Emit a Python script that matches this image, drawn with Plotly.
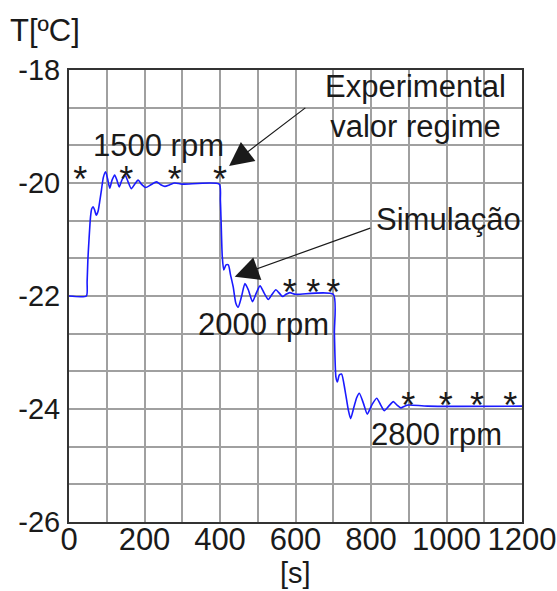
import plotly.graph_objects as go

# ---- data ----
sim_t = [0, 46, 48, 50, 53, 57, 60, 64, 68, 72, 77, 82, 86, 91, 97, 102, 108, 114, 121, 127,
         133, 140, 148, 156, 165, 174, 183, 193, 203, 217, 232, 243, 254, 267, 280, 300, 398,
         401, 403, 406, 410, 416, 422, 428, 435, 442, 448, 457, 466, 475, 486, 496, 506, 517,
         528, 538, 548, 557, 566, 575, 585, 600, 700, 703, 707, 711, 716, 722, 731, 740, 746,
         755, 762, 769, 780, 790, 802, 815, 825, 835, 847, 859, 869, 879, 889, 899, 950, 1200]
sim_T = [-22.0, -22.0, -21.75, -21.36, -21.0, -20.6, -20.46, -20.42, -20.48, -20.57, -20.5,
         -20.3, -20.12, -19.9, -19.8, -19.92, -20.09, -19.95, -19.86, -19.95, -20.07, -19.95,
         -19.85, -19.97, -20.1, -20.02, -19.95, -20.03, -20.08, -20.03, -19.98, -20.03, -20.06,
         -20.03, -20.0, -20.02, -20.02, -20.3, -20.7, -21.3, -21.54, -21.45, -21.45, -21.63,
         -21.84, -22.13, -22.2, -22.01, -21.78, -21.89, -22.1, -21.95, -21.82, -21.95, -22.06,
         -21.97, -21.89, -21.95, -22.01, -21.97, -21.94, -21.97, -21.97, -22.66, -23.43,
         -23.52, -23.40, -23.38, -23.66, -24.02, -24.17, -23.96, -23.8, -23.72, -23.90, -24.09,
         -23.93, -23.81, -23.92, -24.03, -23.95, -23.87, -23.93, -23.98, -23.95, -23.93,
         -23.95, -23.95]

exp_t = [30, 152, 280, 400, 585, 647, 700, 899, 998, 1081, 1169]
exp_T = [-20, -20, -20, -20, -22, -22, -22, -24, -24, -24, -24]

x_grid = list(range(0, 1201, 100))
x_labels = [str(v) if v % 200 == 0 else "" for v in x_grid]
y_grid = [-26 + k * 2 / 3 for k in range(13)]
y_labels = [str(round(v)) if k % 3 == 0 else "" for k, v in enumerate(y_grid)]

FONT = "Liberation Sans, Arial, sans-serif"
TXT = "#1a1a1a"

fig = go.Figure()
fig.add_trace(go.Scatter(x=sim_t, y=sim_T, mode="lines",
                         line=dict(color="#1a1aff", width=1.6, shape="spline", smoothing=0.6),
                         hoverinfo="skip", showlegend=False))
fig.add_trace(go.Scatter(x=exp_t, y=exp_T, mode="text", text=["*"] * len(exp_t),
                         textfont=dict(family=FONT, size=36, color=TXT),
                         textposition="middle center", showlegend=False, cliponaxis=False))

ann_font = dict(family=FONT, size=31, color=TXT)
annotations = [
    dict(x=238, y=-19.33, xref="x", yref="y", text="1500 rpm", showarrow=False, font=ann_font),
    dict(x=918, y=-18.64, xref="x", yref="y", text="Experimental<br>valor regime",
         showarrow=False, font=ann_font, align="center"),
    dict(x=1004, y=-20.65, xref="x", yref="y", text="Simulação", showarrow=False, font=ann_font),
    dict(x=514, y=-22.51, xref="x", yref="y", text="2000 rpm", showarrow=False, font=ann_font),
    dict(x=973, y=-24.45, xref="x", yref="y", text="2800 rpm", showarrow=False, font=ann_font),
    # arrows
    dict(x=424, y=-19.70, ax=630, ay=-18.65, xref="x", yref="y", axref="x", ayref="y",
         text="", showarrow=True, arrowhead=2, arrowsize=4, arrowwidth=1.2, arrowcolor=TXT),
    dict(x=439, y=-21.66, ax=802, ay=-20.79, xref="x", yref="y", axref="x", ayref="y",
         text="", showarrow=True, arrowhead=2, arrowsize=4, arrowwidth=1.2, arrowcolor=TXT),
    # axis labels
    dict(x=-0.054, y=1.088, xref="paper", yref="paper", xanchor="center", yanchor="middle",
         text="T[ºC]", showarrow=False, font=dict(family=FONT, size=31, color=TXT)),
    dict(x=0.5, y=-0.112, xref="paper", yref="paper", xanchor="center", yanchor="middle",
         text="[s]", showarrow=False, font=dict(family=FONT, size=29, color=TXT)),
]

axis_common = dict(showgrid=True, gridcolor="#a0a0a0", gridwidth=1.5, showline=True,
                   linecolor="#333333", linewidth=2, mirror=True, ticks="", zeroline=False,
                   automargin=False)

fig.update_layout(
    width=557, height=591,
    margin=dict(l=69, r=35, t=70, b=69),
    paper_bgcolor="white", plot_bgcolor="white",
    xaxis=dict(range=[0, 1200], tickmode="array", tickvals=x_grid, ticktext=x_labels,
               ticklabelstandoff=-11, tickfont=dict(family=FONT, size=31, color=TXT),
               **axis_common),
    yaxis=dict(range=[-26, -18], tickmode="array", tickvals=y_grid, ticktext=y_labels,
               ticklabelstandoff=1, tickfont=dict(family=FONT, size=29, color=TXT),
               **axis_common),
    annotations=annotations,
    showlegend=False,
)

fig.write_html("out.html", config={"displayModeBar": False},
               post_script="document.body.style.margin='0';document.body.style.overflow='hidden';")
